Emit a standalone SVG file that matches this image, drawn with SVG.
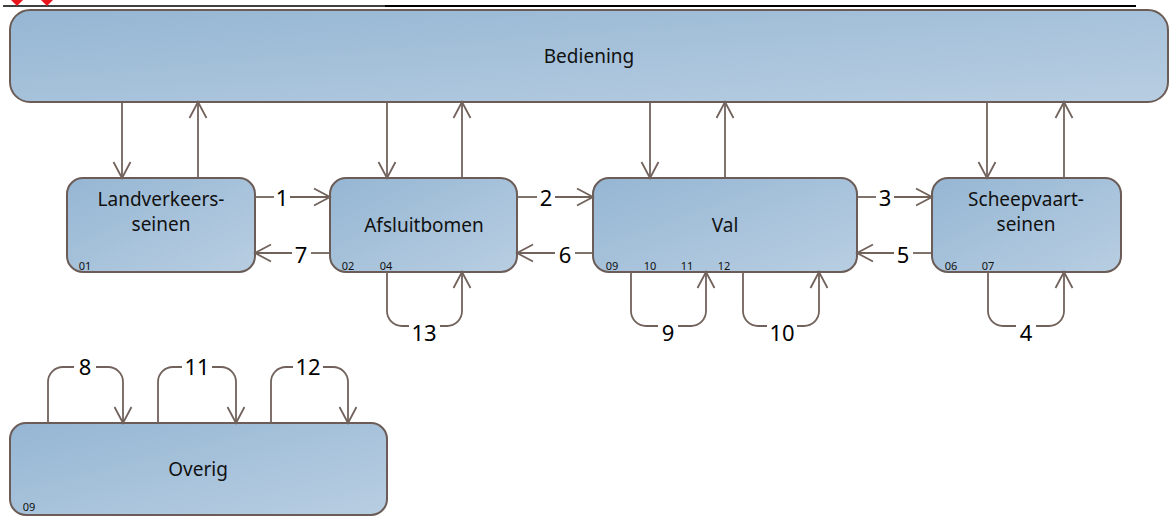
<svg xmlns="http://www.w3.org/2000/svg" width="1171" height="516" viewBox="0 0 1171 516">
<style>
.box{stroke:#6b5c57;stroke-width:2;fill:url(#g)}
.t{font-family:"Noto Sans","Liberation Sans",sans-serif;font-size:19px;fill:#111;text-anchor:middle}
.s{font-family:"Noto Sans","Liberation Sans",sans-serif;font-size:11px;fill:#111;text-anchor:middle}
.n{font-family:"Noto Sans","Liberation Sans",sans-serif;font-size:22px;fill:#000;text-anchor:middle}
.c{fill:none;stroke:#72625c;stroke-width:1.8}
.a{marker-end:url(#ah)}
</style>
<defs>
<linearGradient id="g" x1="0" y1="0" x2="1" y2="1">
<stop offset="0" stop-color="#95b6d3"/>
<stop offset="1" stop-color="#b8cee2"/>
</linearGradient>
<marker id="ah" markerUnits="userSpaceOnUse" markerWidth="20" markerHeight="20" viewBox="0 0 20 20" refX="17" refY="10" orient="auto">
<path d="M1,1.5 L17,10 L1,18.5" fill="none" stroke="#72625c" stroke-width="1.8"/>
</marker>
</defs>
<g id="header">
<line x1="3" y1="6" x2="385" y2="6" stroke="#000" stroke-width="1.3"/>
<line x1="385" y1="6" x2="1136" y2="6" stroke="#000" stroke-width="2"/>
<polygon points="11,0 23,0 17,6" fill="#e8141b"/>
<polygon points="41,0 53,0 47,6" fill="#e8141b"/>
</g>
<g id="bediening">
<rect class="box" x="10" y="10" width="1158" height="92" rx="20"/>
<text class="t" x="589" y="63">Bediening</text>
</g>
<g id="landverkeersseinen">
<rect class="box" x="67" y="178" width="188" height="94" rx="16"/>
<text class="t" x="161" y="206">Landverkeers-</text>
<text class="t" x="161" y="231">seinen</text>
<text class="s" x="85" y="270">01</text>
</g>
<g id="afsluitbomen">
<rect class="box" x="330" y="178" width="187" height="94" rx="16"/>
<text class="t" x="424" y="232">Afsluitbomen</text>
<text class="s" x="348" y="270">02</text>
<text class="s" x="386" y="270">04</text>
</g>
<g id="val">
<rect class="box" x="593" y="178" width="264" height="94" rx="16"/>
<text class="t" x="725" y="232">Val</text>
<text class="s" x="612" y="270">09</text>
<text class="s" x="650" y="270">10</text>
<text class="s" x="687" y="270">11</text>
<text class="s" x="724" y="270">12</text>
</g>
<g id="scheepvaartseinen">
<rect class="box" x="932" y="178" width="189" height="94" rx="16"/>
<text class="t" x="1026" y="206">Scheepvaart-</text>
<text class="t" x="1026" y="231">seinen</text>
<text class="s" x="951" y="270">06</text>
<text class="s" x="988" y="270">07</text>
</g>
<g id="overig">
<rect class="box" x="10" y="423" width="377" height="92" rx="16"/>
<text class="t" x="198" y="476">Overig</text>
<text class="s" x="29" y="511">09</text>
</g>
<g id="connectors">
<path class="c a" d="M122,102 V178"/>
<path class="c a" d="M198,178 V102"/>
<path class="c a" d="M387,102 V178"/>
<path class="c a" d="M462,178 V102"/>
<path class="c a" d="M650,102 V178"/>
<path class="c a" d="M725,178 V102"/>
<path class="c a" d="M987,102 V178"/>
<path class="c a" d="M1064,178 V102"/>
<path class="c" d="M255,197 H274"/><path class="c a" d="M290,197 H330"/>
<path class="c" d="M330,253 H311"/><path class="c a" d="M292,253 H255"/>
<path class="c" d="M517,197 H537"/><path class="c a" d="M555,197 H593"/>
<path class="c" d="M593,253 H575"/><path class="c a" d="M555,253 H517"/>
<path class="c" d="M857,197 H876"/><path class="c a" d="M894,197 H932"/>
<path class="c" d="M932,253 H913"/><path class="c a" d="M894,253 H857"/>
<path class="c" d="M387,272 V311 A15,15 0 0 0 402,326 H409"/><path class="c a" d="M440,326 H447 A15,15 0 0 0 462,311 V272"/>
<path class="c" d="M631,272 V311 A15,15 0 0 0 646,326 H658"/><path class="c a" d="M678,326 H691 A15,15 0 0 0 706,311 V272"/>
<path class="c" d="M743,272 V311 A15,15 0 0 0 758,326 H767"/><path class="c a" d="M797,326 H804 A15,15 0 0 0 819,311 V272"/>
<path class="c" d="M988,272 V311 A15,15 0 0 0 1003,326 H1016"/><path class="c a" d="M1036,326 H1049 A15,15 0 0 0 1064,311 V272"/>
<path class="c" d="M48,423 V382 A15,15 0 0 1 63,367 H74"/><path class="c a" d="M96,367 H108 A15,15 0 0 1 123,382 V423"/>
<path class="c" d="M158,423 V382 A15,15 0 0 1 173,367 H182"/><path class="c a" d="M212,367 H221 A15,15 0 0 1 236,382 V423"/>
<path class="c" d="M271,423 V382 A15,15 0 0 1 286,367 H293"/><path class="c a" d="M323,367 H333 A15,15 0 0 1 348,382 V423"/>
<text class="n" x="282" y="206">1</text>
<text class="n" x="301" y="263">7</text>
<text class="n" x="546" y="206">2</text>
<text class="n" x="565" y="263">6</text>
<text class="n" x="885" y="206">3</text>
<text class="n" x="903" y="263">5</text>
<text class="n" x="424" y="341">13</text>
<text class="n" x="668" y="341">9</text>
<text class="n" x="782" y="341">10</text>
<text class="n" x="1026" y="341">4</text>
<text class="n" x="85" y="375">8</text>
<text class="n" x="197" y="375">11</text>
<text class="n" x="308" y="375">12</text>
</g>
</svg>
